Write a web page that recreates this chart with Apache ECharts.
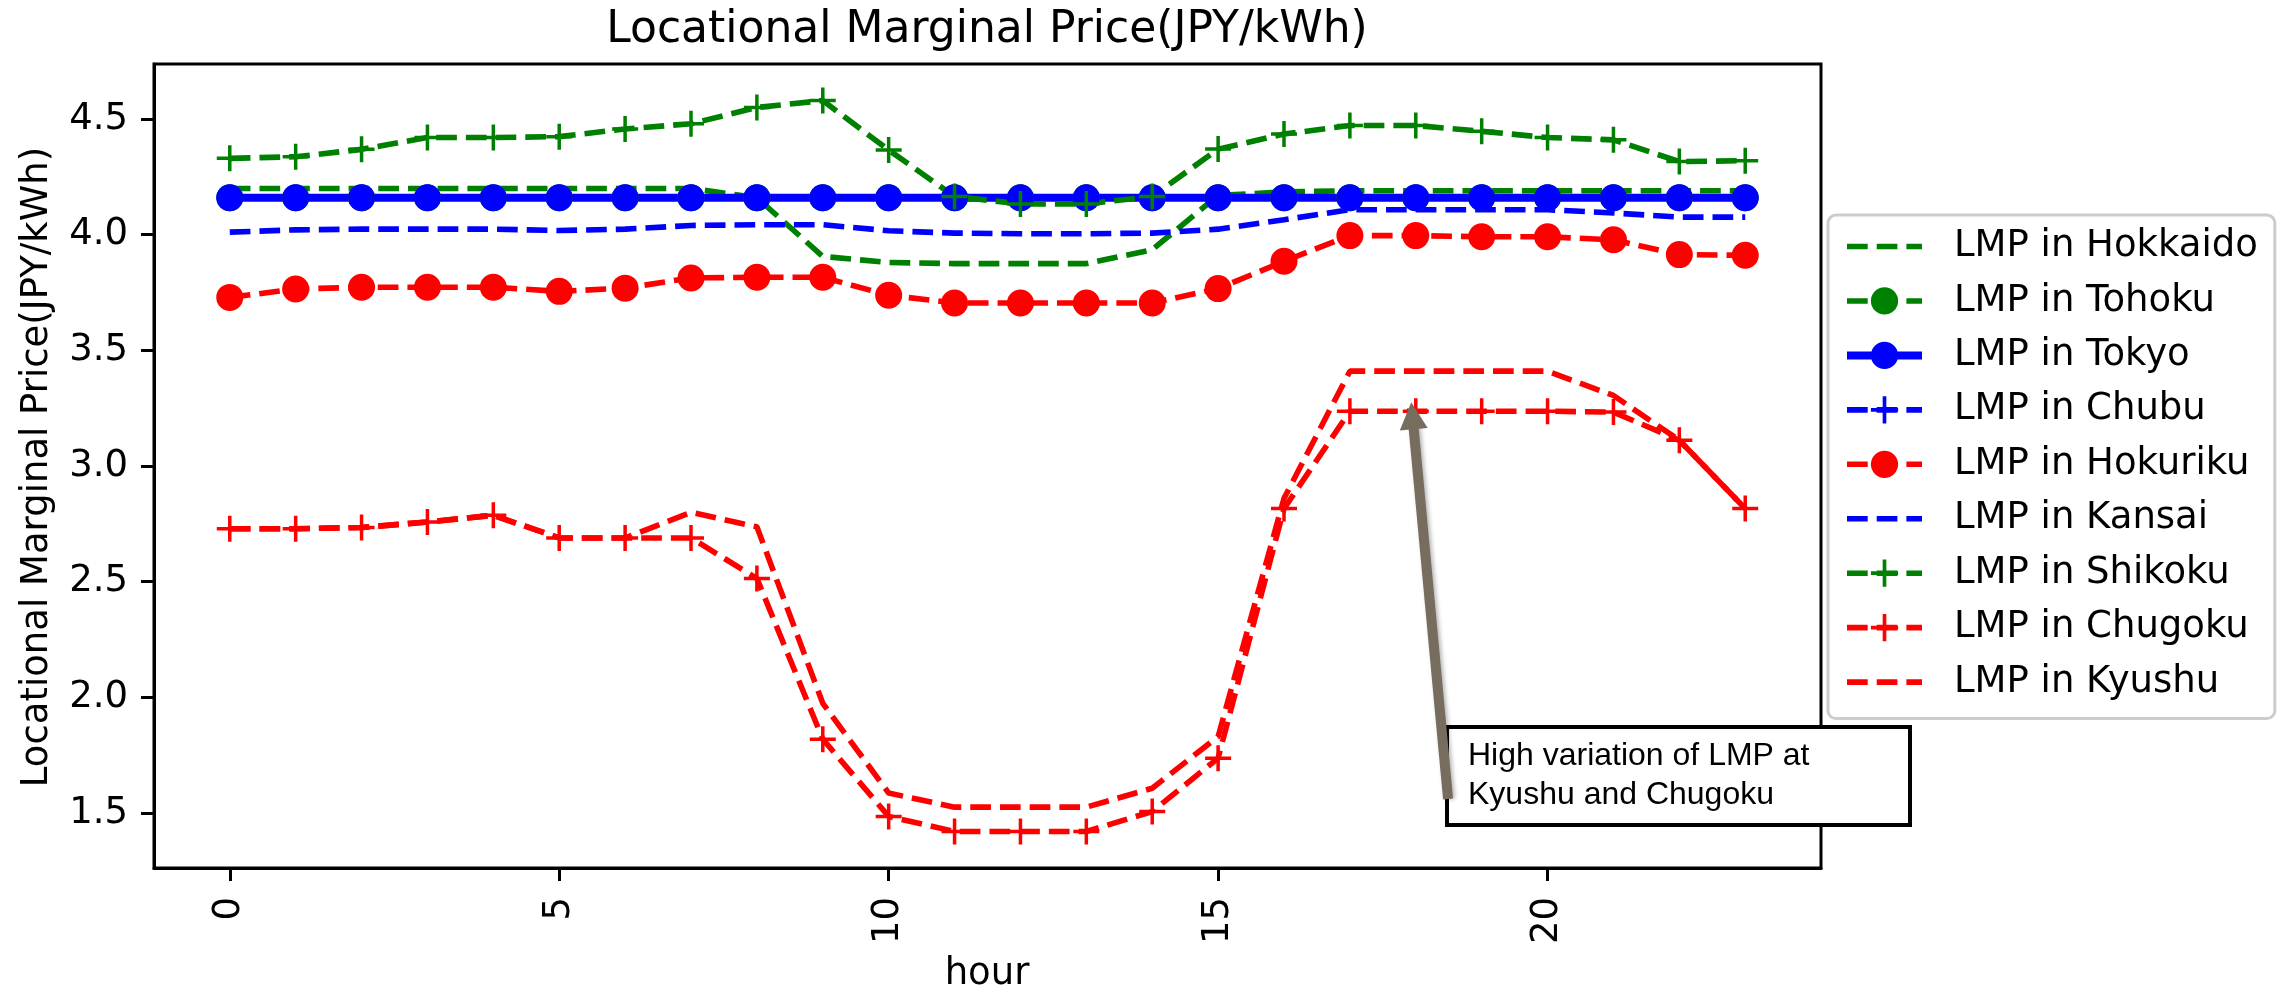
<!DOCTYPE html>
<html>
<head>
<meta charset="utf-8">
<script src="https://cdn.jsdelivr.net/npm/echarts@6/dist/echarts.min.js"></script>
<style>
  html, body { margin: 0; padding: 0; background: #fff; }
  #chart { width: 2277px; height: 991px; }
</style>
</head>
<body>
<div id="chart"></div>
<script>
var hours = [0, 1, 2, 3, 4, 5, 6, 7, 8, 9, 10, 11, 12, 13, 14, 15, 16, 17, 18, 19, 20, 21, 22, 23];

var hokkaido = [4.20, 4.20, 4.20, 4.20, 4.20, 4.20, 4.20, 4.20, 4.16, 3.906, 3.88, 3.875, 3.875, 3.875, 3.935, 4.17, 4.185, 4.19, 4.19, 4.19, 4.19, 4.19, 4.19, 4.19];
var tohoku = [4.16, 4.16, 4.16, 4.16, 4.16, 4.16, 4.16, 4.16, 4.16, 4.16, 4.16, 4.16, 4.16, 4.16, 4.16, 4.16, 4.16, 4.16, 4.16, 4.16, 4.16, 4.16, 4.16, 4.16];
var tokyo = [4.16, 4.16, 4.16, 4.16, 4.16, 4.16, 4.16, 4.16, 4.16, 4.16, 4.16, 4.16, 4.16, 4.16, 4.16, 4.16, 4.16, 4.16, 4.16, 4.16, 4.16, 4.16, 4.16, 4.16];
var chubu = [4.16, 4.16, 4.16, 4.16, 4.16, 4.16, 4.16, 4.16, 4.16, 4.16, 4.16, 4.16, 4.16, 4.16, 4.16, 4.16, 4.16, 4.16, 4.16, 4.16, 4.16, 4.16, 4.16, 4.16];
var hokuriku = [3.729, 3.765, 3.773, 3.773, 3.773, 3.755, 3.769, 3.813, 3.816, 3.816, 3.738, 3.705, 3.705, 3.705, 3.705, 3.767, 3.885, 3.996, 3.996, 3.991, 3.991, 3.978, 3.914, 3.911];
var kansai = [4.011, 4.021, 4.024, 4.024, 4.024, 4.018, 4.024, 4.04, 4.043, 4.043, 4.017, 4.007, 4.004, 4.004, 4.007, 4.024, 4.065, 4.108, 4.108, 4.108, 4.108, 4.094, 4.076, 4.076];
var shikoku = [4.33, 4.337, 4.369, 4.42, 4.42, 4.424, 4.457, 4.48, 4.55, 4.58, 4.366, 4.165, 4.133, 4.133, 4.165, 4.37, 4.435, 4.472, 4.472, 4.447, 4.42, 4.41, 4.316, 4.32];
var chugoku = [2.729, 2.729, 2.734, 2.758, 2.787, 2.689, 2.689, 2.689, 2.514, 1.819, 1.485, 1.42, 1.42, 1.42, 1.506, 1.737, 2.816, 3.237, 3.237, 3.237, 3.237, 3.233, 3.111, 2.816];
var kyushu = [2.729, 2.729, 2.734, 2.758, 2.787, 2.689, 2.689, 2.80, 2.737, 1.974, 1.586, 1.525, 1.525, 1.525, 1.607, 1.83, 2.86, 3.41, 3.41, 3.41, 3.41, 3.305, 3.111, 2.816];

var xTicks = [0, 5, 10, 15, 20];
var yTicks = [1.5, 2.0, 2.5, 3.0, 3.5, 4.0, 4.5];

// arrow of the note: tail (hidden under the box) and head, in data units
var arrowFrom = [18.49, 1.56];
var arrowTo = [17.95, 3.217];

var chart = echarts.init(document.getElementById('chart'));

var FONT = 'DejaVu Sans';
var DASH = [20.7, 9];
var PLUS = 'path://M11.25,0 H14.75 V11.25 H26 V14.75 H14.75 V26 H11.25 V14.75 H0 V11.25 H11.25 Z';
var NOMARK = 'path://M0,0 L1,1';   // no area: keeps the legend icon a bare line

function pairs(vals) {
  return hours.map(function (h, i) { return [h, vals[i]]; });
}

function mkSeries(name, vals, color, symbol, dashed, width) {
  var bare = symbol === 'none';
  return {
    name: name,
    type: 'line',
    data: pairs(vals),
    color: color,
    symbol: bare ? NOMARK : symbol,
    symbolSize: symbol === 'circle' ? 27 : 26,
    showSymbol: !bare,
    clip: false,
    lineStyle: { color: color, width: width, type: dashed ? DASH : 'solid' },
    itemStyle: { color: color, borderWidth: 0, opacity: bare ? 0 : 1 },
    emphasis: { disabled: true }
  };
}

// matplotlib-like 5% margins on the data range
var allX = hours;
var allY = [].concat(hokkaido, tohoku, tokyo, chubu, hokuriku, kansai, shikoku, chugoku, kyushu);
var xMin = Math.min.apply(null, allX), xMax = Math.max.apply(null, allX);
var yMin = Math.min.apply(null, allY), yMax = Math.max.apply(null, allY);
var xPad = (xMax - xMin) * 0.05, yPad = (yMax - yMin) * 0.05;

var series = [
  mkSeries('LMP in Hokkaido', hokkaido, '#008000', 'none', true, 5.6),
  mkSeries('LMP in Tohoku', tohoku, '#008000', 'circle', true, 5.6),
  mkSeries('LMP in Tokyo', tokyo, '#0000ff', 'circle', false, 8),
  mkSeries('LMP in Chubu', chubu, '#0000ff', PLUS, true, 5.6),
  mkSeries('LMP in Hokuriku', hokuriku, '#ff0000', 'circle', true, 5.6),
  mkSeries('LMP in Kansai', kansai, '#0000ff', 'none', true, 5.6),
  mkSeries('LMP in Shikoku', shikoku, '#008000', PLUS, true, 5.6),
  mkSeries('LMP in Chugoku', chugoku, '#ff0000', PLUS, true, 5.6),
  mkSeries('LMP in Kyushu', kyushu, '#ff0000', 'none', true, 5.6)
];

series[7].markLine = {
  silent: true,
  symbol: ['none', 'triangle'],
  symbolSize: [28, 27],
  label: { show: false },
  lineStyle: { color: '#766d5f', width: 10, type: 'solid', shadowBlur: 4, shadowColor: 'rgba(0,0,0,0.3)', shadowOffsetX: 2 },
  data: [[{ coord: arrowFrom }, { coord: arrowTo }]]
};

var option = {
  animation: false,
  backgroundColor: '#fff',
  textStyle: { fontFamily: FONT },
  grid: {
    left: 154, top: 64, width: 1667, height: 804,
    outerBoundsMode: 'none',
    containLabel: false,
    show: true, borderColor: '#000', borderWidth: 3, backgroundColor: 'transparent'
  },
  xAxis: {
    type: 'value',
    min: xMin - xPad,
    max: xMax + xPad,
    splitLine: { show: false },
    axisLine: { show: true, onZero: false, lineStyle: { color: '#000', width: 3 } },
    axisTick: { show: true, length: 13, lineStyle: { color: '#000', width: 3 }, customValues: xTicks },
    axisLabel: {
      rotate: 90, margin: 29, fontFamily: FONT, fontSize: 37, color: '#000',
      customValues: xTicks
    }
  },
  yAxis: {
    type: 'value',
    min: yMin - yPad,
    max: yMax + yPad,
    splitLine: { show: false },
    axisLine: { show: true, onZero: false, lineStyle: { color: '#000', width: 3 } },
    axisTick: { show: true, length: 13, lineStyle: { color: '#000', width: 3 }, customValues: yTicks },
    axisLabel: {
      margin: 26, fontFamily: FONT, fontSize: 37, color: '#000',
      customValues: yTicks,
      formatter: function (v) { return v.toFixed(1); }
    }
  },
  legend: {
    orient: 'vertical',
    left: 1828,
    top: 215,
    padding: [13, 17, 18, 15],
    itemWidth: 75,
    itemHeight: 34,
    itemGap: 17.45,
    backgroundColor: '#fff',
    borderColor: '#cccccc',
    borderWidth: 3,
    borderRadius: 8,
    selectedMode: false,
    lineStyle: { width: 'inherit', type: 'inherit' },
    itemStyle: { borderWidth: 0 },
    textStyle: { fontFamily: FONT, fontSize: 37, lineHeight: 37, color: '#000', padding: [0, 0, 0, 27] },
    data: series.map(function (s) { return s.name; })
  },
  graphic: [
    {
      type: 'text',
      x: 987, y: 31,
      style: {
        text: 'Locational Marginal Price(JPY/kWh)',
        font: '44px "DejaVu Sans"',
        fill: '#000',
        textAlign: 'center',
        textVerticalAlign: 'middle'
      }
    },
    {
      type: 'text',
      x: 987, y: 974,
      style: {
        text: 'hour',
        font: '37px "DejaVu Sans"',
        fill: '#000',
        textAlign: 'center',
        textVerticalAlign: 'middle'
      }
    },
    {
      type: 'text',
      x: 37, y: 467,
      rotation: Math.PI / 2,
      style: {
        text: 'Locational Marginal Price(JPY/kWh)',
        font: '37px "DejaVu Sans"',
        fill: '#000',
        textAlign: 'center',
        textVerticalAlign: 'middle'
      }
    },
    {
      type: 'group',
      z: 100,
      children: [
        {
          type: 'rect',
          shape: { x: 1447, y: 727, width: 463, height: 98 },
          style: { fill: '#fff', stroke: '#000', lineWidth: 4 }
        },
        {
          type: 'text',
          x: 1468, y: 736.5,
          style: {
            text: 'High variation of LMP at\nKyushu and Chugoku',
            font: '32px "Liberation Sans"',
            lineHeight: 39,
            fill: '#000',
            textAlign: 'left',
            textVerticalAlign: 'top'
          }
        }
      ]
    }
  ],
  series: series
};

chart.setOption(option);
</script>
</body>
</html>
